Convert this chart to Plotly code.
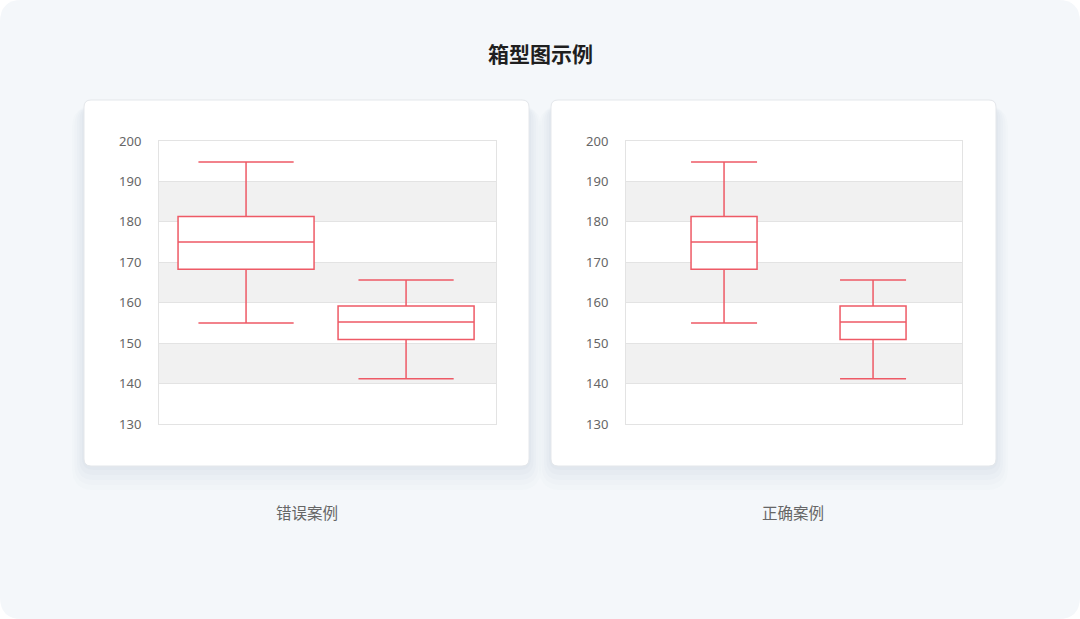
import plotly.graph_objects as go

W, H = 1080, 619

groups = ["A组", "B组"]
q1 = [168.3, 150.9]
median = [175.0, 155.2]
q3 = [181.3, 159.2]
lower = [155.0, 141.2]
upper = [194.8, 165.6]

y_ticks = [130, 140, 150, 160, 170, 180, 190, 200]
title_text = "箱型图示例"
captions = ["错误案例", "正确案例"]

RED = "#ee5a66"
GRID = "#e3e3e3"
BAND = "#f1f1f1"
FONT = "Noto Sans CJK SC, Noto Sans, sans-serif"


def px(x):
    return x / W


def py(y):
    return 1 - y / H


def round_rect(x0, y0, x1, y1, r):
    # rounded rectangle in pixel coords -> paper path
    pts = []
    pts.append("M %f,%f" % (px(x0 + r), py(y0)))
    pts.append("L %f,%f" % (px(x1 - r), py(y0)))
    pts.append("Q %f,%f %f,%f" % (px(x1), py(y0), px(x1), py(y0 + r)))
    pts.append("L %f,%f" % (px(x1), py(y1 - r)))
    pts.append("Q %f,%f %f,%f" % (px(x1), py(y1), px(x1 - r), py(y1)))
    pts.append("L %f,%f" % (px(x0 + r), py(y1)))
    pts.append("Q %f,%f %f,%f" % (px(x0), py(y1), px(x0), py(y1 - r)))
    pts.append("L %f,%f" % (px(x0), py(y0 + r)))
    pts.append("Q %f,%f %f,%f" % (px(x0), py(y0), px(x0 + r), py(y0)))
    return " ".join(pts) + " Z"


fig = go.Figure()

# left: wide boxes, right: narrow boxes
panels = [
    dict(xa="x", ya="y", width=0.85, whisker=0.7, rng=[-0.544, 1.562]),
    dict(xa="x2", ya="y2", width=0.443, whisker=1.0, rng=[-0.658, 1.597]),
]

for p in panels:
    fig.add_trace(go.Box(
        x=groups, q1=q1, median=median, q3=q3,
        lowerfence=lower, upperfence=upper,
        width=p["width"], whiskerwidth=p["whisker"],
        fillcolor="white", line=dict(color=RED, width=1.5),
        xaxis=p["xa"], yaxis=p["ya"], showlegend=False, hoverinfo="skip",
    ))

ydom = [py(424), py(141)]
xdoms = [[px(159), px(496)], [px(626), px(962)]]

axis_y = dict(
    range=[y_ticks[0], y_ticks[-1]], tickvals=y_ticks, showgrid=True,
    gridcolor=GRID, gridwidth=1, zeroline=False, showline=True,
    linecolor=GRID, mirror=True, ticks="", ticklabelstandoff=14,
    tickfont=dict(family="Noto Sans, sans-serif", size=13, color="#666666"),
    domain=ydom, fixedrange=True, automargin=False,
)
axis_x = dict(
    type="category", showticklabels=False, showgrid=False, zeroline=False,
    showline=True, linecolor=GRID, mirror=True, ticks="", fixedrange=True,
    automargin=False,
)

shapes = []
# page background with rounded corners
shapes.append(dict(type="path", xref="paper", yref="paper",
                   path=round_rect(0, 0, W, H, 22),
                   fillcolor="#f4f7fa", line=dict(width=0), layer="below"))

cards = [(84, 100, 529, 466), (551, 100, 996, 466)]
for (x0, y0, x1, y1) in cards:
    # soft shadow
    for i, a in enumerate([0.018, 0.022, 0.026, 0.03, 0.034]):
        g = 24 - i * 5
        shapes.append(dict(type="path", xref="paper", yref="paper",
                           path=round_rect(x0 - g / 2, y0 + 6, x1 + g / 2, y1 + g, 10 + g / 2),
                           fillcolor="rgba(120,140,170,%f)" % a,
                           line=dict(width=0), layer="below"))
    shapes.append(dict(type="path", xref="paper", yref="paper",
                       path=round_rect(x0, y0, x1, y1, 7),
                       fillcolor="white", line=dict(color="#e4e7eb", width=1),
                       layer="below"))

# alternating bands between gridlines
for k, ax in enumerate(["", "2"]):
    for i in range(1, len(y_ticks) - 2, 2):
        shapes.append(dict(type="rect", xref="x%s domain" % ax, yref="y%s" % ax,
                           x0=0, x1=1, y0=y_ticks[i], y1=y_ticks[i + 1],
                           fillcolor=BAND, line=dict(width=0), layer="below"))

annotations = [
    dict(text="<b>%s</b>" % title_text, x=0.5, y=py(53), xref="paper", yref="paper",
         xanchor="center", yanchor="middle",
         showarrow=False, font=dict(family=FONT, size=21, color="#1f1f1f")),
    dict(text=captions[0], x=px(307), y=py(512), xref="paper", yref="paper",
         xanchor="center", yanchor="middle",
         showarrow=False, font=dict(family=FONT, size=15.5, color="#666666")),
    dict(text=captions[1], x=px(793), y=py(512), xref="paper", yref="paper",
         xanchor="center", yanchor="middle",
         showarrow=False, font=dict(family=FONT, size=15.5, color="#666666")),
]

fig.update_layout(
    width=W, height=H,
    margin=dict(l=0, r=0, t=0, b=0, pad=0, autoexpand=False),
    paper_bgcolor="white", plot_bgcolor="white",
    xaxis=dict(axis_x, domain=xdoms[0], range=panels[0]["rng"], anchor="y"),
    yaxis=dict(axis_y, anchor="x"),
    xaxis2=dict(axis_x, domain=xdoms[1], range=panels[1]["rng"], anchor="y2"),
    yaxis2=dict(axis_y, anchor="x2"),
    shapes=shapes, annotations=annotations,
)

fig.write_html("out.html", config={"displayModeBar": False},
               post_script="document.body.style.margin='0';document.body.style.overflow='hidden';")
